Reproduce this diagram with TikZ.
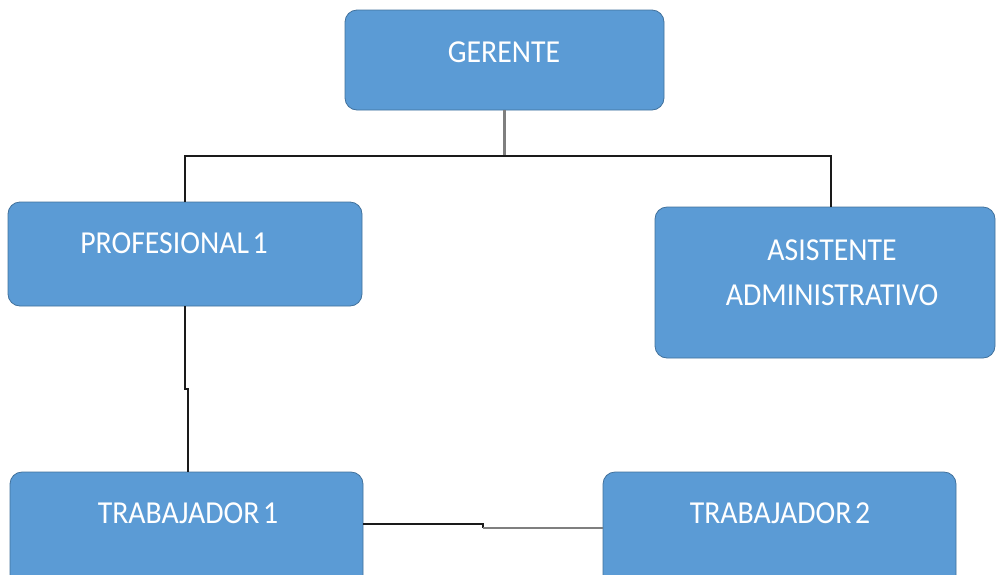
\documentclass[tikz,border=0pt]{standalone}
\usepackage{fontspec}
\usepackage{graphicx}
\setmainfont{Carlito}
\definecolor{boxblue}{HTML}{5B9BD5}
\definecolor{boxedge}{HTML}{41719C}
\definecolor{wireblack}{HTML}{1A1A1A}
\definecolor{wiregrey}{HTML}{7F7F7F}
\newcommand{\narrow}[1]{\scalebox{0.93}[1]{#1}}
\begin{document}
\begin{tikzpicture}[x=1pt,y=-1pt,
  box/.style={draw=boxedge, fill=boxblue, rounded corners=12pt, line width=0.8pt, inner sep=0pt},
  lbl/.style={text=white, font=\fontsize{32}{32}\selectfont, inner sep=0pt, anchor=base},
  wire/.style={line width=2pt, draw=wireblack},
  greywire/.style={line width=2.6pt, draw=wiregrey}]
  \useasboundingbox (0,0) rectangle (996,574);
  \clip (0,0) rectangle (996,574);

  % boxes
  \node[box, minimum width=319pt, minimum height=100pt] (ger)   at (504.5,60) {};
  \node[box, minimum width=354pt, minimum height=104pt] (prof)  at (185,254) {};
  \node[box, minimum width=340pt, minimum height=151pt] (asis)  at (825,282.5) {};
  \node[box, minimum width=353pt, minimum height=128pt] (trab1) at (186.5,536) {};
  \node[box, minimum width=353pt, minimum height=128pt] (trab2) at (779.5,536) {};

  % labels
  \node[lbl] (tger)   at (504,62)  {\narrow{GERENTE}};
  \node[lbl] (tprof)  at (174,253) {\narrow{PROFESIONAL\hspace{0.12em}1}};
  \node[lbl] (tasis1) at (832,260) {\narrow{ASISTENTE}};
  \node[lbl] (tasis2) at (832,305) {\narrow{ADMINISTRATIVO}};
  \node[lbl] (ttr1)   at (188,523) {\narrow{TRABAJADOR\hspace{0.12em}1}};
  \node[lbl] (ttr2)   at (780,523) {\narrow{TRABAJADOR\hspace{0.12em}2}};

  % connector points
  \coordinate (bus)    at (504.5,155.5);
  \coordinate (asisIn) at (831,207);
  \coordinate (jogA)   at (185,389);
  \coordinate (jogB)   at (187.7,389);
  \coordinate (tr1In)  at (187.7,472);
  \coordinate (tr1Out) at (363,524);
  \coordinate (midA)   at (483,524);
  \coordinate (midB)   at (483,528);
  \coordinate (tr2In)  at (603,528);

  % connectors
  \draw[greywire] (ger.south) -- (bus);
  \draw[wire] (prof.north) |- (bus) -| (asisIn);
  \draw[wire] (prof.south) -- (jogA) -- (jogB) -- (tr1In);
  \draw[wire] (tr1Out) -- (midA) -- (midB);
  \draw[greywire] (midB) -- (tr2In);
\end{tikzpicture}
\end{document}
